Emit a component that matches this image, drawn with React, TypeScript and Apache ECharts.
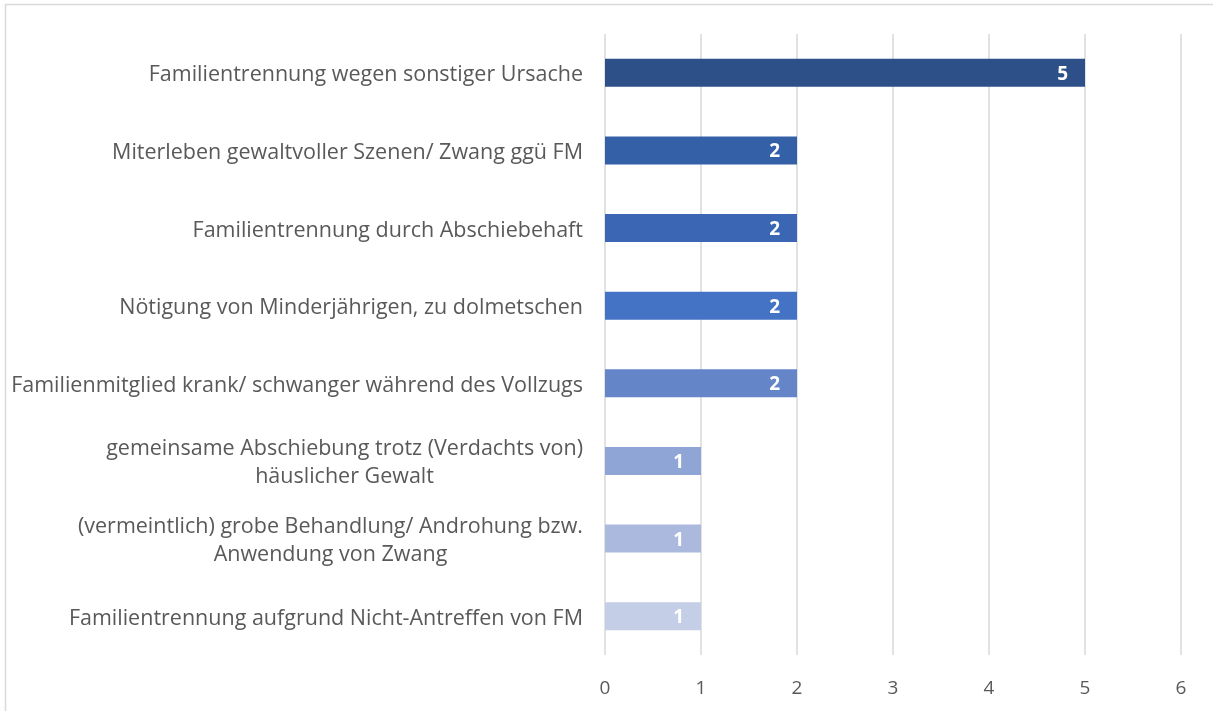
import React, { useEffect, useRef } from "react";
import * as echarts from "echarts";

const categories: string[] = [
  "Familientrennung wegen sonstiger Ursache",
  "Miterleben gewaltvoller Szenen/ Zwang ggü FM",
  "Familientrennung durch Abschiebehaft",
  "Nötigung von Minderjährigen, zu dolmetschen",
  "Familienmitglied krank/ schwanger während des Vollzugs",
  "gemeinsame Abschiebung trotz (Verdachts von)\nhäuslicher Gewalt",
  "(vermeintlich) grobe Behandlung/ Androhung bzw.\nAnwendung von Zwang",
  "Familientrennung aufgrund Nicht-Antreffen von FM",
];
const values: number[] = [5, 2, 2, 2, 2, 1, 1, 1];
const barColors: string[] = [
  "#2e5089",
  "#3460a7",
  "#3a66b4",
  "#4472c4",
  "#6585c9",
  "#8fa5d5",
  "#abb9df",
  "#c5cee7",
];
const xTicks: number[] = [0, 1, 2, 3, 4, 5, 6];

export default function App() {
  const ref = useRef<HTMLDivElement>(null);
  useEffect(() => {
    if (!ref.current) return;
    const chart = echarts.init(ref.current, undefined, { renderer: "svg" });
    const font = "'Open Sans', 'Noto Sans', sans-serif";
    chart.setOption({
      animation: false,
      textStyle: { fontFamily: font },
      graphic: [
        {
          type: "rect",
          shape: { x: 5.5, y: 4.5, width: 1220, height: 720 },
          style: { fill: "none", stroke: "#d9d9d9", lineWidth: 1.5 },
          silent: true,
        },
      ],
      grid: { left: 605, right: 32, top: 34, bottom: 56, containLabel: false },
      xAxis: {
        type: "value",
        min: xTicks[0],
        max: xTicks[xTicks.length - 1],
        interval: 1,
        axisLine: { show: false },
        axisTick: { show: false },
        splitLine: { show: true, lineStyle: { color: "#d9d9d9", width: 1.5 } },
        axisLabel: {
          color: "#595959",
          fontSize: 19,
          fontFamily: font,
          margin: 22,
        },
      },
      yAxis: {
        type: "category",
        inverse: true,
        data: categories,
        axisLine: { show: false },
        axisTick: { show: false },
        axisLabel: {
          margin: 22,
          color: "#595959",
          fontSize: 21.5,
          fontFamily: font,
          lineHeight: 28,
          formatter: (v: string) =>
            v
              .split("\n")
              .map((s) => "{c|" + s + "}")
              .join("\n"),
          rich: {
            c: {
              align: "center",
              color: "#595959",
              fontSize: 21.5,
              fontFamily: font,
              lineHeight: 28,
            },
          },
        },
      },
      series: [
        {
          type: "bar",
          barWidth: 28,
          data: values.map((v, i) => ({
            value: v,
            itemStyle: { color: barColors[i] },
          })),
          label: {
            show: true,
            position: "insideRight",
            distance: 17,
            color: "#ffffff",
            fontWeight: "bold",
            fontSize: 19,
            fontFamily: font,
          },
        },
      ],
    });
    return () => chart.dispose();
  }, []);
  return (
    <div
      ref={ref}
      style={{ position: "fixed", left: 0, top: 0, width: 1213, height: 711 }}
    />
  );
}
